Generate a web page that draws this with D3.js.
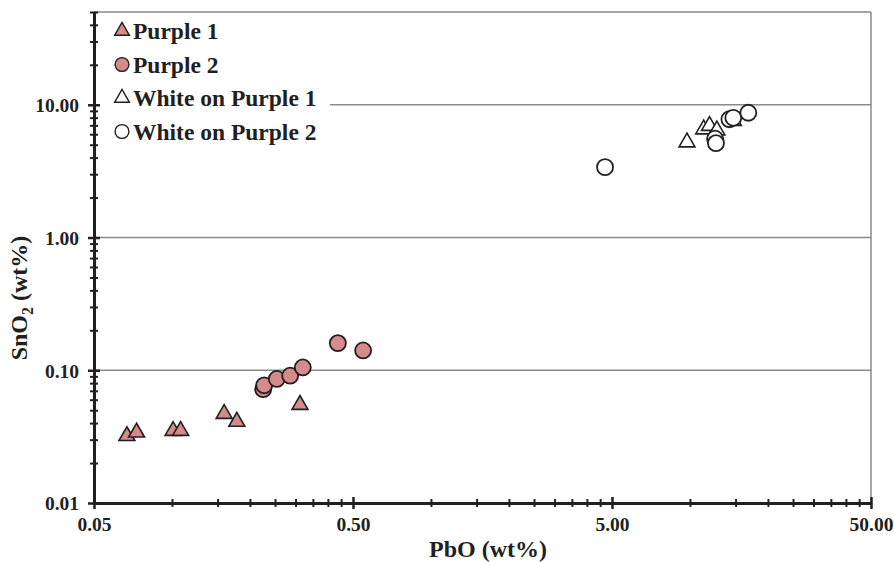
<!DOCTYPE html>
<html lang="en">
<head>
<meta charset="utf-8">
<script src="https://d3js.org/d3.v7.min.js"></script>
<style>
  body { margin: 0; background: #fff; }
  text { font-family: "Liberation Serif", "Times New Roman", serif; font-weight: bold; fill: #231f20; }
</style>
</head>
<body>
<div id="chart"></div>
<script>
// PbO (x) and SnO2 (y), wt%
var purple1X = [0.067, 0.073, 0.101, 0.108, 0.159, 0.178, 0.312];
var purple1Y = [0.032, 0.034, 0.035, 0.035, 0.047, 0.041, 0.055];
var purple2X = [0.225, 0.227, 0.254, 0.286, 0.320, 0.437, 0.547];
var purple2Y = [0.072, 0.077, 0.086, 0.091, 0.105, 0.160, 0.141];
var whiteP1X = [9.74, 11.3, 11.9, 12.7, 14.7];
var whiteP1Y = [5.22, 6.54, 6.95, 6.43, 7.58];
var whiteP2X = [4.70, 12.5, 12.6, 14.2, 14.7, 16.8];
var whiteP2Y = [3.39, 5.55, 5.14, 7.78, 7.98, 8.71];

var xTickLabels = ["0.05", "0.50", "5.00", "50.00"];
var yTickLabels = ["0.01", "0.10", "1.00", "10.00"];
var gridValues = [0.1, 1, 10];
var seriesNames = ["Purple 1", "Purple 2", "White on Purple 1", "White on Purple 2"];

var W = 894, H = 562;
var margin = {top: 12, right: 23, bottom: 59, left: 94};
var pink = "#d48b8c", ink = "#231f20";

var svg = d3.select("#chart").append("svg")
    .attr("width", W).attr("height", H);

var x = d3.scaleLog().domain([0.05, 50]).range([margin.left, W - margin.right]);
var y = d3.scaleLog().domain([0.01, 50]).range([H - margin.bottom, margin.top]);

// minor tick values: k * 10^n
var xMinor = [], yMinor = [];
[0.05, 0.5, 5].forEach(function(b) { for (var k = 2; k <= 9; k++) xMinor.push(b * k); });
[0.01, 0.1, 1].forEach(function(b) { for (var k = 2; k <= 9; k++) yMinor.push(b * k); });
[20, 30, 40, 50].forEach(function(v) { yMinor.push(v); });

// grid
svg.append("g").selectAll("line").data(gridValues).enter().append("line")
    .attr("x1", margin.left).attr("x2", W - margin.right)
    .attr("y1", function(d) { return y(d); }).attr("y2", function(d) { return y(d); })
    .attr("stroke", "#8a8a8a").attr("stroke-width", 1.5);

// top and right frame
svg.append("line").attr("x1", margin.left).attr("x2", W - margin.right)
    .attr("y1", margin.top).attr("y2", margin.top)
    .attr("stroke", "#8a8a8a").attr("stroke-width", 1.5);
svg.append("line").attr("x1", W - margin.right).attr("x2", W - margin.right)
    .attr("y1", margin.top).attr("y2", H - margin.bottom)
    .attr("stroke", "#8a8a8a").attr("stroke-width", 1.5);

// legend background covers the grid
svg.append("rect").attr("x", margin.left + 2).attr("y", margin.top + 2)
    .attr("width", 234).attr("height", 136).attr("fill", "#fff");

// x axis
var xAxisG = svg.append("g").attr("transform", "translate(0," + y(0.01) + ")");
xAxisG.call(d3.axisBottom(x).tickValues(xMinor).tickSize(0).tickFormat(""));
xAxisG.selectAll(".tick line").attr("y1", -4).attr("y2", 4)
    .attr("stroke", ink).attr("stroke-width", 2);
var xMajor = svg.append("g").attr("transform", "translate(0," + y(0.01) + ")")
    .call(d3.axisBottom(x).tickValues([0.05, 0.5, 5, 50]).tickSize(0)
        .tickFormat(function(d, i) { return xTickLabels[i]; }));
xMajor.selectAll(".tick line").attr("y1", -6).attr("y2", 6)
    .attr("stroke", ink).attr("stroke-width", 2.5);
xMajor.selectAll(".tick text").attr("dy", 0).attr("y", 28)
    .style("font-size", "19.5px").attr("font-family", null).attr("fill", ink);
xMajor.select(".domain").remove();
xAxisG.select(".domain").attr("stroke", ink).attr("stroke-width", 3);

// y axis
var yAxisG = svg.append("g").attr("transform", "translate(" + x(0.05) + ",0)");
yAxisG.call(d3.axisLeft(y).tickValues(yMinor).tickSize(0).tickFormat(""));
yAxisG.selectAll(".tick line").attr("x1", -4).attr("x2", 4)
    .attr("stroke", ink).attr("stroke-width", 2);
var yMajor = svg.append("g").attr("transform", "translate(" + x(0.05) + ",0)")
    .call(d3.axisLeft(y).tickValues([0.01, 0.1, 1, 10]).tickSize(0)
        .tickFormat(function(d, i) { return yTickLabels[i]; }));
yMajor.selectAll(".tick line").attr("x1", -6).attr("x2", 6)
    .attr("stroke", ink).attr("stroke-width", 2.5);
yMajor.selectAll(".tick text").attr("x", -15).attr("dy", "0.35em")
    .style("font-size", "19.5px").attr("font-family", null).attr("fill", ink);
yMajor.select(".domain").remove();
yAxisG.select(".domain").attr("stroke", ink).attr("stroke-width", 3);

// axis titles
svg.append("text").attr("x", 488).attr("y", 557).attr("text-anchor", "middle")
    .style("font-size", "24px").text("PbO (wt%)");
var yt = svg.append("text").attr("transform", "translate(27,298) rotate(-90)")
    .attr("text-anchor", "middle").style("font-size", "24px");
yt.append("tspan").text("SnO");
yt.append("tspan").attr("dy", 6).style("font-size", "16px").text("2");
yt.append("tspan").attr("dy", -6).text(" (wt%)");

// markers
var tri = d3.symbol().type(d3.symbolTriangle).size(110);
function zip(a, b) { return a.map(function(v, i) { return [v, b[i]]; }); }

function drawTriangles(data, fill) {
    svg.append("g").selectAll("path").data(data).enter().append("path")
        .attr("d", tri)
        .attr("transform", function(d) { return "translate(" + x(d[0]) + "," + y(d[1]) + ")"; })
        .attr("fill", fill).attr("stroke", ink).attr("stroke-width", 1.6);
}
function drawCircles(data, fill) {
    svg.append("g").selectAll("circle").data(data).enter().append("circle")
        .attr("cx", function(d) { return x(d[0]); })
        .attr("cy", function(d) { return y(d[1]); })
        .attr("r", 8)
        .attr("fill", fill).attr("stroke", ink).attr("stroke-width", 1.8);
}
drawTriangles(zip(purple1X, purple1Y), pink);
drawCircles(zip(purple2X, purple2Y), pink);
drawTriangles(zip(whiteP1X, whiteP1Y), "#fff");
drawCircles(zip(whiteP2X, whiteP2Y), "#fff");

// legend
var legendFills = [pink, pink, "#fff", "#fff"];
var lg = svg.append("g").selectAll("g").data(seriesNames).enter().append("g")
    .attr("transform", function(d, i) { return "translate(122," + (31 + i * 33.5) + ")"; });
lg.append("path")
    .attr("d", function(d, i) { return i % 2 === 0 ? d3.symbol().type(d3.symbolTriangle).size(95)() : d3.symbol().type(d3.symbolCircle).size(150)(); })
    .attr("fill", function(d, i) { return legendFills[i]; })
    .attr("stroke", ink).attr("stroke-width", 1.4);
lg.append("text").attr("x", 11).attr("dy", "0.35em").style("font-size", "23.5px")
    .text(function(d) { return d; });
</script>
</body>
</html>
